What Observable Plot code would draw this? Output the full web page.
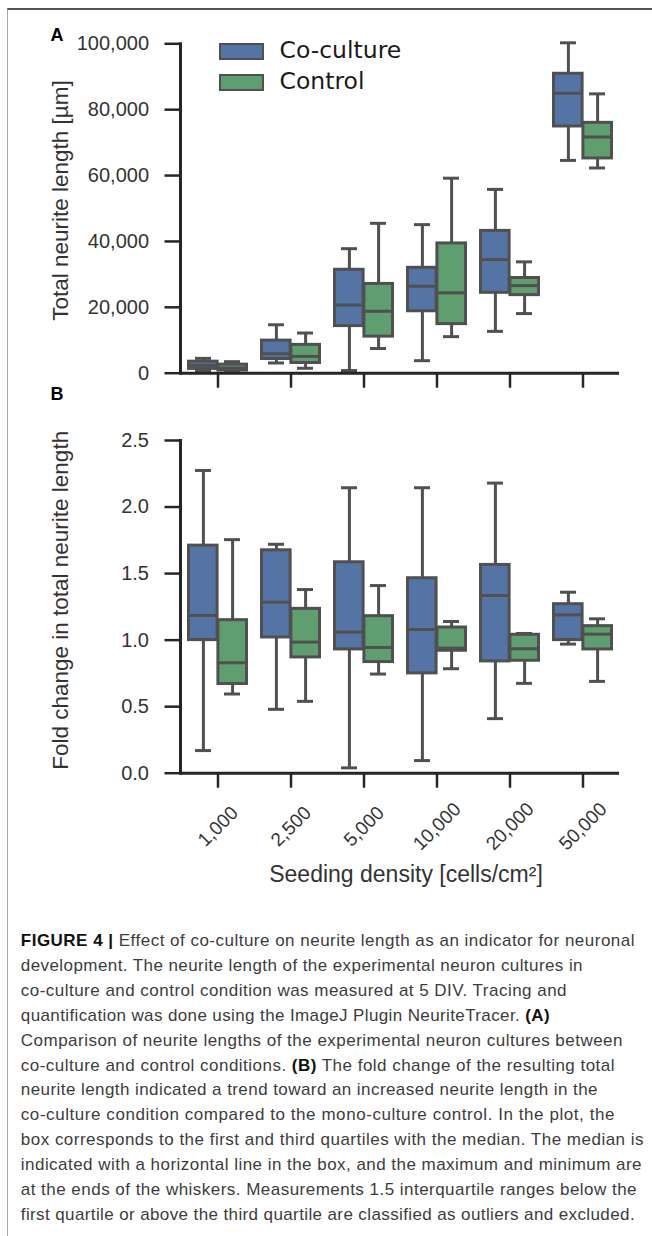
<!DOCTYPE html>
<html><head><meta charset="utf-8">
<script src="https://cdn.jsdelivr.net/npm/d3@7"></script>
<script src="https://cdn.jsdelivr.net/npm/@observablehq/plot@0.6"></script>
<style>
body{margin:0;background:#fff;}
#page{position:relative;width:652px;height:1236px;overflow:hidden;font-family:"Liberation Sans",Arial,sans-serif;background:#fff;}
#frame{position:absolute;left:7px;top:8px;right:-5px;bottom:-5px;border-top:2px solid #555;border-left:1px solid #a8a8a8;}
.pan{position:absolute;left:0;}
.sw{position:absolute;width:45px;height:17px;box-sizing:border-box;border:2px solid #505050;}
.lt{position:absolute;font-family:"DejaVu Sans",sans-serif;font-size:23.5px;line-height:23.5px;color:#1a1a1a;white-space:nowrap;}
#caption{position:absolute;left:20.8px;top:929px;font-size:17px;line-height:24.9px;color:#3c3c3c;}
#caption div{white-space:nowrap;}
#caption b{color:#111;}
</style></head><body>
<div id="page">
<div id="frame"></div>
<div id="panelA" class="pan" style="top:0"></div>
<div id="panelB" class="pan" style="top:390px"></div>
<div id="legend"></div>
<div id="caption">
<div><b>FIGURE 4 |</b> Effect of co-culture on neurite length as an indicator for neuronal</div>
<div>development. The neurite length of the experimental neuron cultures in</div>
<div>co-culture and control condition was measured at 5 DIV. Tracing and</div>
<div>quantification was done using the ImageJ Plugin NeuriteTracer. <b>(A)</b></div>
<div>Comparison of neurite lengths of the experimental neuron cultures between</div>
<div>co-culture and control conditions. <b>(B)</b> The fold change of the resulting total</div>
<div>neurite length indicated a trend toward an increased neurite length in the</div>
<div>co-culture condition compared to the mono-culture control. In the plot, the</div>
<div>box corresponds to the first and third quartiles with the median. The median is</div>
<div>indicated with a horizontal line in the box, and the maximum and minimum are</div>
<div>at the ends of the whiskers. Measurements 1.5 interquartile ranges below the</div>
<div>first quartile or above the third quartile are classified as outliers and excluded.</div>
</div>
</div>
<script>
// ---- data ----
const densities = ["1,000", "2,500", "5,000", "10,000", "20,000", "50,000"];
const conditions = ["Co-culture", "Control"];

// Panel A: total neurite length [µm]
const aCoMin = [800, 3100, 800, 3800, 12700, 64600];
const aCoQ1  = [1300, 4300, 14300, 18800, 24400, 74900];
const aCoMed = [2400, 5900, 20700, 26400, 34500, 85000];
const aCoQ3  = [3500, 9900, 31400, 32000, 43200, 90900];
const aCoMax = [4500, 14700, 37800, 45100, 55800, 100300];
const aCtMin = [500, 1500, 7500, 11100, 18100, 62300];
const aCtQ1  = [800, 3100, 11100, 14900, 23700, 65200];
const aCtMed = [1600, 5100, 18800, 24400, 26600, 71700];
const aCtQ3  = [2600, 8600, 27100, 39400, 28900, 76000];
const aCtMax = [3500, 12200, 45500, 59200, 33800, 84800];

// Panel B: fold change in total neurite length
const bCoMin = [0.17, 0.48, 0.04, 0.095, 0.41, 0.97];
const bCoQ1  = [1.00, 1.02, 0.93, 0.75, 0.84, 1.00];
const bCoMed = [1.185, 1.285, 1.06, 1.08, 1.335, 1.19];
const bCoQ3  = [1.71, 1.675, 1.585, 1.465, 1.565, 1.27];
const bCoMax = [2.275, 1.72, 2.145, 2.145, 2.18, 1.36];
const bCtMin = [0.595, 0.54, 0.745, 0.785, 0.675, 0.69];
const bCtQ1  = [0.67, 0.87, 0.835, 0.92, 0.845, 0.93];
const bCtMed = [0.83, 0.985, 0.945, 0.94, 0.935, 1.045];
const bCtQ3  = [1.15, 1.235, 1.18, 1.095, 1.04, 1.105];
const bCtMax = [1.755, 1.38, 1.41, 1.14, 1.05, 1.16];

const aTicks = [0, 20000, 40000, 60000, 80000, 100000];
const bTicks = [0, 0.5, 1.0, 1.5, 2.0, 2.5];

const BLUE = "#5574a6", GREEN = "#5f9e6e", LINE = "#505050", AX = "#262626";

function rows(mn, q1, md, q3, mx) {
  return densities.map((d, i) => ({density: d, min: mn[i], q1: q1[i], med: md[i], q3: q3[i], max: mx[i]}));
}

// box geometry (insets in px within each 73px band)
const CO = {box: [7.5, 36.9], cap: [14, 43], dx: -14.6};
const CT = {box: [36.9, 7.5], cap: [43, 14], dx: 14.6};

function boxMarks(data, g, fill) {
  return [
    Plot.ruleX(data, {x: "density", y1: "min", y2: "max", dx: g.dx, stroke: LINE, strokeWidth: 3}),
    Plot.tickY(data, {x: "density", y: "min", insetLeft: g.cap[0], insetRight: g.cap[1], stroke: LINE, strokeWidth: 3}),
    Plot.tickY(data, {x: "density", y: "max", insetLeft: g.cap[0], insetRight: g.cap[1], stroke: LINE, strokeWidth: 3}),
    Plot.rectY(data, {x: "density", y1: "q1", y2: "q3", fill, stroke: LINE, strokeWidth: 3, insetLeft: g.box[0], insetRight: g.box[1]}),
    Plot.tickY(data, {x: "density", y: "med", insetLeft: g.box[0], insetRight: g.box[1], stroke: LINE, strokeWidth: 3})
  ];
}

function panel({co, ct, domain, ticks, fmt, marginTop, marginBottom, height, title, titleDy, letter, letterDy, extra}) {
  return Plot.plot({
    width: 652, height, marginLeft: 180, marginRight: 33, marginTop, marginBottom,
    style: {fontFamily: "Liberation Sans, Arial, sans-serif", color: AX, background: "transparent", overflow: "visible"},
    x: {type: "band", domain: densities, padding: 0},
    y: {domain},
    marks: [
      ...boxMarks(co, CO, BLUE),
      ...boxMarks(ct, CT, GREEN),
      Plot.ruleY([0], {stroke: AX, strokeWidth: 3}),
      Plot.frame({anchor: "left", stroke: AX, strokeWidth: 3}),
      Plot.axisY({ticks, tickFormat: fmt, tickSize: 15.5, tickPadding: 16, fontSize: 20, strokeWidth: 2.5, label: null, fill: "#333"}),
      Plot.axisX({tickSize: 15, tickFormat: () => "", strokeWidth: 2.5, label: null}),
      Plot.text([title], {frameAnchor: "left", dx: -120, dy: titleDy, rotate: -90, textAnchor: "middle", lineAnchor: "middle", fontSize: 22.5, fill: "#333"}),
      Plot.text([letter], {frameAnchor: "top-left", dx: -130, dy: letterDy, textAnchor: "start", lineAnchor: "middle", fontWeight: "bold", fontSize: 18, fill: "#000"}),
      ...(extra || [])
    ]
  });
}

const A = panel({
  co: rows(aCoMin, aCoQ1, aCoMed, aCoQ3, aCoMax),
  ct: rows(aCtMin, aCtQ1, aCtMed, aCtQ3, aCtMax),
  domain: [0, 100000], ticks: aTicks, fmt: d3.format(","),
  marginTop: 43.3, marginBottom: 17.3, height: 390,
  title: "Total neurite length [µm]", titleDy: -8, letter: "A", letterDy: -8.1
});
document.getElementById("panelA").appendChild(A);

const B = panel({
  co: rows(bCoMin, bCoQ1, bCoMed, bCoQ3, bCoMax),
  ct: rows(bCtMin, bCtQ1, bCtMed, bCtQ3, bCtMax),
  domain: [0, 2.5], ticks: bTicks, fmt: d3.format(".1f"),
  marginTop: 50, marginBottom: 127.3, height: 510,
  title: "Fold change in total neurite length", titleDy: -6.5, letter: "B", letterDy: -45.8,
  extra: [
    Plot.text(densities, {x: d => d, frameAnchor: "bottom", dy: 53.3, rotate: -45, textAnchor: "middle", lineAnchor: "middle", fontSize: 19, fill: "#333"}),
    Plot.text(["Seeding density [cells/cm²]"], {frameAnchor: "bottom", dy: 101.8, dx: 6, textAnchor: "middle", lineAnchor: "middle", fontSize: 23, fill: "#333"})
  ]
});
document.getElementById("panelB").appendChild(B);

// legend (inside panel A, upper left)
const legend = document.getElementById("legend");
const legendTops = [43, 74];
const legendColors = [BLUE, GREEN];
conditions.forEach((c, i) => {
  const sw = document.createElement("div");
  sw.className = "sw";
  sw.style.left = "219px"; sw.style.top = legendTops[i] + "px"; sw.style.background = legendColors[i];
  legend.appendChild(sw);
  const t = document.createElement("div");
  t.className = "lt"; t.textContent = c;
  t.style.left = "279.5px"; t.style.top = (legendTops[i] - 4.3) + "px";
  legend.appendChild(t);
});

// caption line fitting to reference line lengths
const lineEnds = [635, 583, 567, 550, 623, 615, 598, 615, 644, 642, 637, 635];
document.querySelectorAll("#caption div").forEach((el, i) => {
  el.style.display = "inline-block";
  const w = el.getBoundingClientRect().width;
  const n = el.textContent.length;
  const target = lineEnds[i] - 20.8;
  el.style.letterSpacing = ((target - w) / n) + "px";
  el.style.display = "block";
});
</script>
</body></html>
